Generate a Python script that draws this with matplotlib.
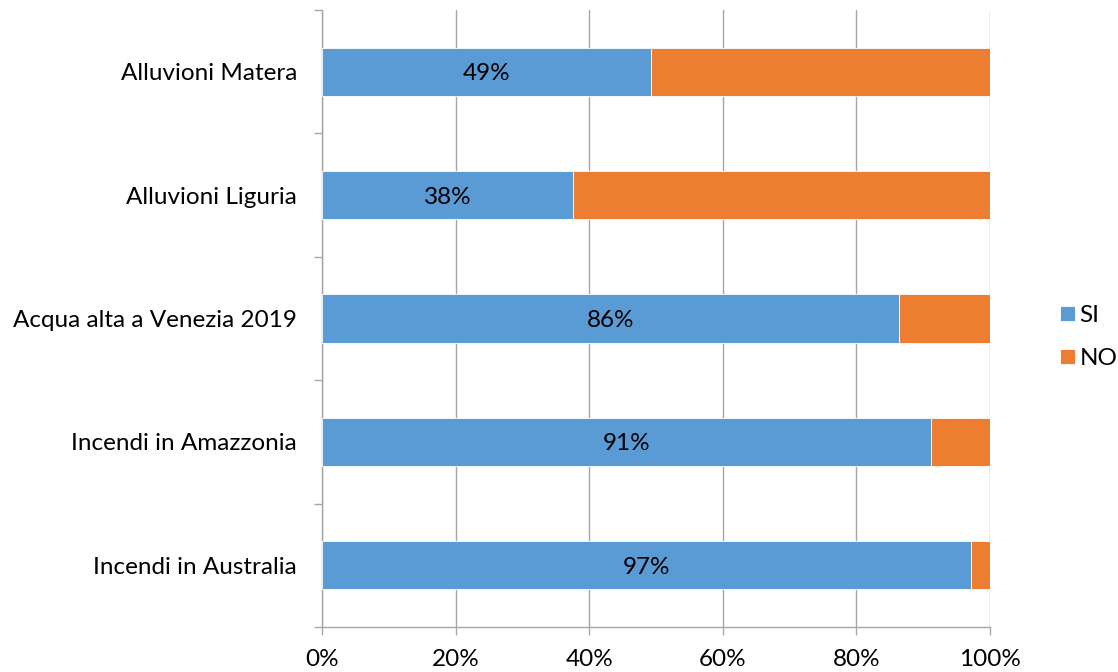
import matplotlib
matplotlib.use("Agg")
import matplotlib.pyplot as plt
import numpy as np

categories = ["Incendi in Australia", "Incendi in Amazzonia", "Acqua alta a Venezia 2019",
              "Alluvioni Liguria", "Alluvioni Matera"]
si_values = [97.2, 91.2, 86.4, 37.6, 49.3]
si_labels = ["97%", "91%", "86%", "38%", "49%"]
no_values = [100 - v for v in si_values]
x_ticks = [0, 20, 40, 60, 80, 100]
x_ticklabels = ["0%", "20%", "40%", "60%", "80%", "100%"]

plt.rcParams['font.family'] = ['Lato', 'DejaVu Sans']

fig = plt.figure(figsize=(11.18, 6.72), dpi=100)
ax = fig.add_axes([322/1118, 1 - 627/672, (990-322)/1118, (627-10)/672])

blue = "#5B9BD5"
orange = "#ED7D31"
grid_c = "#A6A6A6"
fs = 17.5

y = np.arange(len(categories))
h = 0.39
ax.barh(y, si_values, height=h, color=blue, edgecolor="white", linewidth=0.6, label="SI", zorder=3)
ax.barh(y, no_values, left=si_values, height=h, color=orange, edgecolor="white", linewidth=0.6, label="NO", zorder=3)

for yi, v, lab in zip(y, si_values, si_labels):
    ax.text(v / 2, yi, lab, ha="center", va="center_baseline", fontsize=fs, color="black", zorder=4)

ax.set_xlim(0, 100)
ax.set_ylim(-0.5, len(categories) - 0.5)
ax.set_xticks(x_ticks)
ax.set_xticklabels(x_ticklabels, fontsize=fs)
ax.set_yticks(y)
ax.set_yticklabels(categories, fontsize=fs)
ax.tick_params(axis="y", length=0, pad=18)
ax.set_yticks(np.arange(-0.5, len(categories), 1.0), minor=True)
ax.tick_params(axis="y", which="minor", length=6, color=grid_c, width=1)
ax.tick_params(axis="x", length=6, color=grid_c, width=1, pad=10)

ax.grid(axis="x", color=grid_c, linewidth=1, zorder=0)
for s in ["top", "right"]:
    ax.spines[s].set_visible(False)
for s in ["left", "bottom"]:
    ax.spines[s].set_color(grid_c)
    ax.spines[s].set_linewidth(1)

leg = fig.legend(loc="center left", bbox_to_anchor=(1060/1118, 1 - 337/672), frameon=False,
                 fontsize=fs, handlelength=0.6, handleheight=0.6, handletextpad=0.2,
                 labelspacing=0.9, borderpad=0, borderaxespad=0)

fig.savefig("out.png", dpi=100)
